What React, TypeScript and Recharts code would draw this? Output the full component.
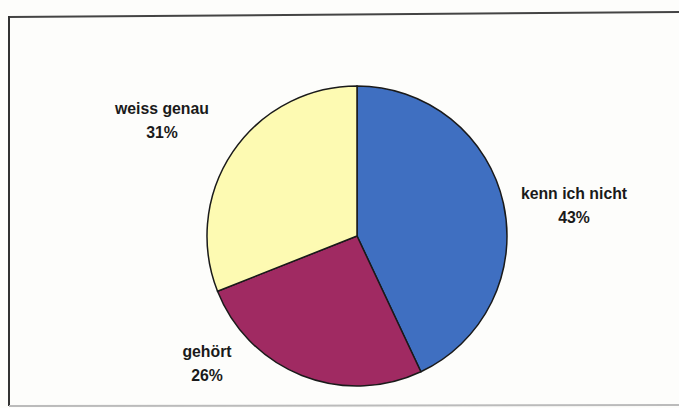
import React from "react";
import { PieChart, Pie, Cell } from "recharts";

const categories = ["kenn ich nicht", "gehört", "weiss genau"];
const shares = [43, 26, 31];
const colors = ["#3f6fc1", "#a02a62", "#fdfab2"];

const data = categories.map((name, i) => ({ name, value: shares[i] }));

const W = 679;
const H = 408;

// label placement relative to the pie centre (dx, dy of first baseline)
const labelPlacement: Record<string, [number, number]> = {
  "kenn ich nicht": [217, -37],
  "gehört": [-150, 121],
  "weiss genau": [-195, -122],
};

const renderLabel = (props: any) => {
  const { cx, cy, name, value } = props;
  const [dx, dy] = labelPlacement[name] || [0, 0];
  const x = cx + dx;
  const y = cy + dy;
  return (
    <text
      x={x}
      y={y}
      textAnchor="middle"
      fill="#1a1a1a"
      fontFamily="'Liberation Sans', Arial, sans-serif"
      fontWeight="bold"
      fontSize={15.8}
    >
      <tspan x={x} y={y}>{name}</tspan>
      <tspan x={x} y={y + 24}>{`${value}%`}</tspan>
    </text>
  );
};

export default function App() {
  return (
    <div
      style={{
        position: "absolute",
        left: 0,
        top: 0,
        width: W,
        height: H,
        background: "#fdfdfb",
        overflow: "hidden",
      }}
    >
      <svg
        width={W}
        height={H}
        style={{ position: "absolute", left: 0, top: 0 }}
      >
        <line x1={9} y1={17} x2={W} y2={12} stroke="#444" strokeWidth={2} />
        <line x1={9} y1={16} x2={9} y2={406} stroke="#333" strokeWidth={2} />
        <line x1={9} y1={406} x2={W} y2={405} stroke="#bbb" strokeWidth={2} />
      </svg>
      <div style={{ position: "absolute", left: 0, top: 0 }}>
        <PieChart width={W} height={H} margin={{ top: 0, right: 0, bottom: 0, left: 0 }}>
          <Pie
            data={data}
            dataKey="value"
            nameKey="name"
            cx={357}
            cy={236}
            outerRadius={150}
            startAngle={90}
            endAngle={-270}
            stroke="#1a1a1a"
            strokeWidth={1.5}
            label={renderLabel}
            labelLine={false}
            isAnimationActive={false}
          >
            {data.map((d, i) => (
              <Cell key={d.name} fill={colors[i]} />
            ))}
          </Pie>
        </PieChart>
      </div>
    </div>
  );
}
